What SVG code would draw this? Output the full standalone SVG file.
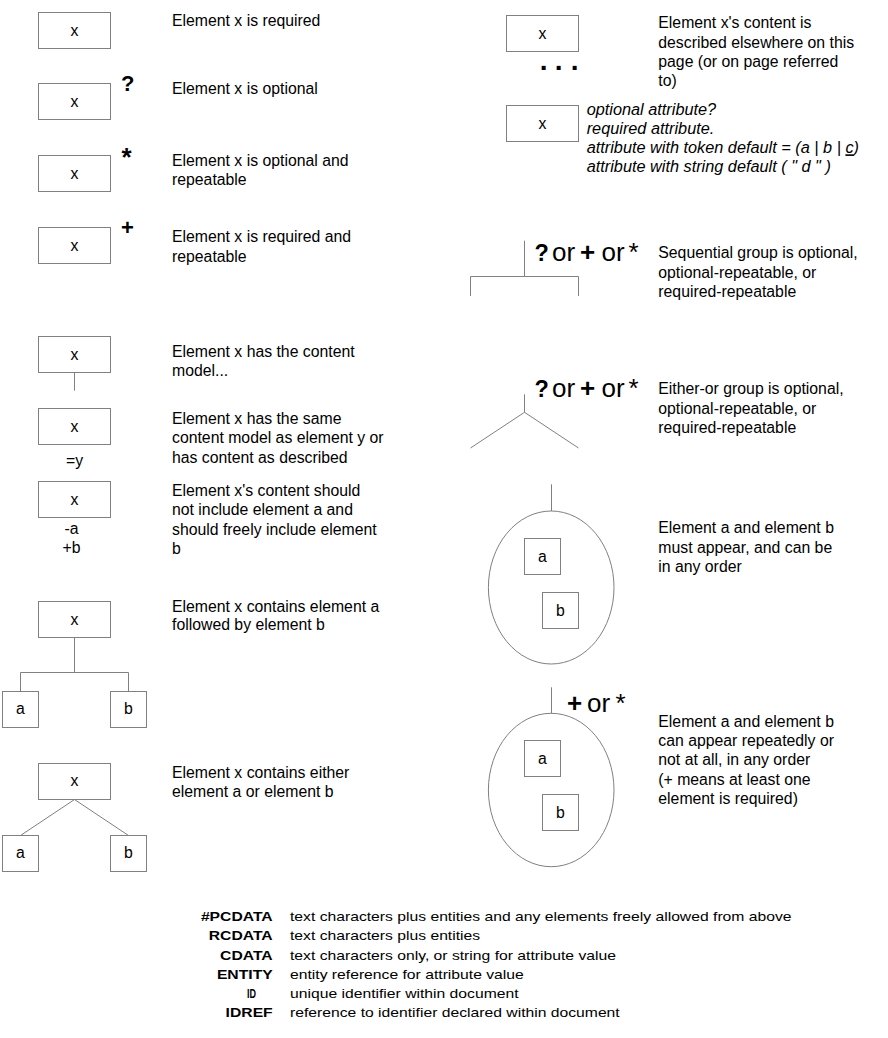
<svg xmlns="http://www.w3.org/2000/svg" width="888" height="1038" viewBox="0 0 888 1038">
<style>
text{font-family:"Liberation Sans",Arial,sans-serif;fill:#000}
.t{font-size:15.8px}
.c{font-size:15.8px;text-anchor:middle}
.i{font-size:16.3px;font-style:italic}
.sym{font-size:22px;font-weight:bold}
.ast{font-size:26px;font-weight:bold}
.q{font-size:23.5px;font-weight:bold}
.big{font-size:26px}
.bigb{font-size:26px;font-weight:bold}
.lg{font-size:15.7px}
.lgb{font-size:15.7px;font-weight:bold;text-anchor:end}
.box{fill:#fff;stroke:#808080;stroke-width:1}
.ln{fill:none;stroke:#808080;stroke-width:1}
</style>
<rect width="888" height="1038" fill="#fff"/>

<g id="connectors">
  <line class="ln" x1="74.5" y1="372.5" x2="74.5" y2="390.7"/>
  <polyline class="ln" points="74.5,637.5 74.5,672.5"/>
  <polyline class="ln" points="20.5,691.5 20.5,672.5 128.5,672.5 128.5,691.5"/>
  <polyline class="ln" points="20.5,835.5 74.5,799.5 128.5,835.5"/>
  <line class="ln" x1="524.5" y1="240.7" x2="524.5" y2="276.5"/>
  <polyline class="ln" points="470.5,296 470.5,276.5 578.5,276.5 578.5,296"/>
  <line class="ln" x1="524.5" y1="394.3" x2="524.5" y2="412.3"/>
  <polyline class="ln" points="470.5,448 524.5,412.3 578.5,448"/>
  <line class="ln" x1="551.5" y1="484.3" x2="551.5" y2="511"/>
  <line class="ln" x1="551.5" y1="687.3" x2="551.5" y2="713.3"/>
</g>

<g id="required">
  <rect class="box" x="38.5" y="12.5" width="72" height="36"/>
  <text class="c" x="74.5" y="35.5">x</text>
  <text class="t" x="172" y="26">Element x is required</text>
</g>
<g id="optional">
  <rect class="box" x="38.5" y="83.5" width="72" height="36"/>
  <text class="c" x="74.5" y="106.5">x</text>
  <text class="sym" x="121" y="90.5">?</text>
  <text class="t" x="172" y="94">Element x is optional</text>
</g>
<g id="optional-repeatable">
  <rect class="box" x="38.5" y="155.5" width="72" height="36"/>
  <text class="c" x="74.5" y="178.5">x</text>
  <text class="ast" x="121.5" y="166">*</text>
  <text class="t" x="172" y="165.7">Element x is optional and</text>
  <text class="t" x="172" y="185">repeatable</text>
</g>
<g id="required-repeatable">
  <rect class="box" x="38.5" y="227.5" width="72" height="36"/>
  <text class="c" x="74.5" y="250.5">x</text>
  <text class="sym" x="121" y="234.5">+</text>
  <text class="t" x="172" y="242.3">Element x is required and</text>
  <text class="t" x="172" y="261.7">repeatable</text>
</g>
<g id="content-model">
  <rect class="box" x="38.5" y="336.5" width="72" height="36"/>
  <text class="c" x="74.5" y="359.5">x</text>
  <text class="t" x="172" y="356.7">Element x has the content</text>
  <text class="t" x="172" y="376">model...</text>
</g>
<g id="same-model">
  <rect class="box" x="38.5" y="408.5" width="72" height="36"/>
  <text class="c" x="74.5" y="431.5">x</text>
  <text class="c" x="74.5" y="465.7">=y</text>
  <text class="t" x="172" y="424">Element x has the same</text>
  <text class="t" x="172" y="443.3">content model as element y or</text>
  <text class="t" x="172" y="462.7">has content as described</text>
</g>
<g id="exclusion-inclusion">
  <rect class="box" x="38.5" y="481.5" width="72" height="36"/>
  <text class="c" x="74.5" y="504.5">x</text>
  <text class="c" x="71.5" y="534.3">-a</text>
  <text class="c" x="71.5" y="553.3">+b</text>
  <text class="t" x="172" y="496">Element x's content should</text>
  <text class="t" x="172" y="515.3">not include element a and</text>
  <text class="t" x="172" y="534.7">should freely include element</text>
  <text class="t" x="172" y="554">b</text>
</g>
<g id="sequence">
  <rect class="box" x="38.5" y="601.5" width="72" height="36"/>
  <text class="c" x="74.5" y="624.5">x</text>
  <rect class="box" x="2.5" y="691.5" width="36" height="36"/>
  <text class="c" x="20.5" y="714">a</text>
  <rect class="box" x="110.5" y="691.5" width="36" height="36"/>
  <text class="c" x="128.5" y="714">b</text>
  <text class="t" x="172" y="611.7">Element x contains element a</text>
  <text class="t" x="172" y="630">followed by element b</text>
</g>
<g id="choice">
  <rect class="box" x="38.5" y="763.5" width="72" height="36"/>
  <text class="c" x="74.5" y="786">x</text>
  <rect class="box" x="2.5" y="835.5" width="36" height="36"/>
  <text class="c" x="20.5" y="858">a</text>
  <rect class="box" x="110.5" y="835.5" width="36" height="36"/>
  <text class="c" x="128.5" y="858">b</text>
  <text class="t" x="172" y="778.3">Element x contains either</text>
  <text class="t" x="172" y="797.3">element a or element b</text>
</g>

<g id="elsewhere">
  <rect class="box" x="506.5" y="15.5" width="72" height="36"/>
  <text class="c" x="542.5" y="38.5">x</text>
  <text x="539.7 554.7 570.7" y="70" style="font-size:28px;font-weight:bold">...</text>
  <text class="t" x="658.3" y="28.3">Element x's content is</text>
  <text class="t" x="658.3" y="47.7">described elsewhere on this</text>
  <text class="t" x="658.3" y="66.7">page (or on page referred</text>
  <text class="t" x="658.3" y="86">to)</text>
</g>
<g id="attributes">
  <rect class="box" x="506.5" y="105.5" width="72" height="36"/>
  <text class="c" x="542.5" y="128.5">x</text>
  <text class="i" x="586.7" y="115">optional attribute?</text>
  <text class="i" x="586.7" y="134">required attribute.</text>
  <text class="i" x="586.7" y="153.3">attribute with token default = (a | b | <tspan text-decoration="underline">c</tspan>)</text>
  <text class="i" x="586.7" y="172.3">attribute with string default ( " d " )</text>
</g>
<g id="sequential-group">
  <text class="q" x="534.5" y="261">?</text>
  <text class="big" x="552" y="261">or</text>
  <text class="bigb" x="580" y="261">+</text>
  <text class="big" x="601.5" y="261">or</text>
  <text class="big" x="628.5" y="261">*</text>
  <text class="t" x="658.3" y="258.3">Sequential group is optional,</text>
  <text class="t" x="658.3" y="277.7">optional-repeatable, or</text>
  <text class="t" x="658.3" y="297">required-repeatable</text>
</g>
<g id="either-or-group">
  <text class="q" x="534.5" y="396.7">?</text>
  <text class="big" x="552" y="396.7">or</text>
  <text class="bigb" x="580" y="396.7">+</text>
  <text class="big" x="601.5" y="396.7">or</text>
  <text class="big" x="628.5" y="396.7">*</text>
  <text class="t" x="658.3" y="394.3">Either-or group is optional,</text>
  <text class="t" x="658.3" y="413.6">optional-repeatable, or</text>
  <text class="t" x="658.3" y="432.9">required-repeatable</text>
</g>
<g id="any-order">
  <ellipse class="ln" cx="551.2" cy="587.5" rx="62.8" ry="76.5"/>
  <rect class="box" x="524.5" y="538.5" width="36" height="36"/>
  <text class="c" x="542.5" y="561.5">a</text>
  <rect class="box" x="542.5" y="592.5" width="36" height="36"/>
  <text class="c" x="560.5" y="615.5">b</text>
  <text class="t" x="658.3" y="533.3">Element a and element b</text>
  <text class="t" x="658.3" y="552.7">must appear, and can be</text>
  <text class="t" x="658.3" y="572">in any order</text>
</g>
<g id="any-order-repeatable">
  <ellipse class="ln" cx="551.2" cy="790" rx="62.8" ry="76.7"/>
  <rect class="box" x="524.5" y="740.5" width="36" height="36"/>
  <text class="c" x="542.5" y="763.5">a</text>
  <rect class="box" x="542.5" y="794.5" width="36" height="36"/>
  <text class="c" x="560.5" y="817.5">b</text>
  <text class="bigb" x="567" y="711.7">+</text>
  <text class="big" x="587" y="711.7">or</text>
  <text class="big" x="615.5" y="711.7">*</text>
  <text class="t" x="658.3" y="726.7">Element a and element b</text>
  <text class="t" x="658.3" y="746">can appear repeatedly or</text>
  <text class="t" x="658.3" y="765.3">not at all, in any order</text>
  <text class="t" x="658.3" y="784.7">(+ means at least one</text>
  <text class="t" x="658.3" y="804">element is required)</text>
</g>

<g id="legend" transform="translate(0,921) scale(1,0.85)">
  <text class="lgb" x="272.7" y="0">#PCDATA</text>
  <text class="lg" x="290" y="0">text characters plus entities and any elements freely allowed from above</text>
  <text class="lgb" x="272.7" y="22.7">RCDATA</text>
  <text class="lg" x="290" y="22.7">text characters plus entities</text>
  <text class="lgb" x="272.7" y="45.4">CDATA</text>
  <text class="lg" x="290" y="45.4">text characters only, or string for attribute value</text>
  <text class="lgb" x="272.7" y="68.1">ENTITY</text>
  <text class="lg" x="290" y="68.1">entity reference for attribute value</text>
  <text class="lgb" x="256" y="90.8" textLength="9" lengthAdjust="spacingAndGlyphs">ID</text>
  <text class="lg" x="290" y="90.8">unique identifier within document</text>
  <text class="lgb" x="272.7" y="113.5">IDREF</text>
  <text class="lg" x="290" y="113.5">reference to identifier declared within document</text>
</g>
</svg>
